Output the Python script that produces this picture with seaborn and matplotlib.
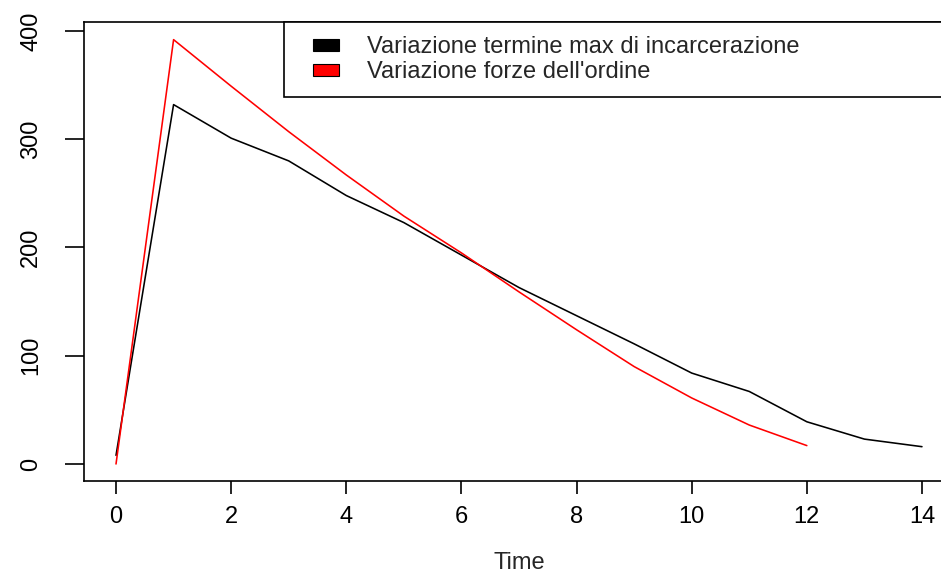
import matplotlib
matplotlib.use("Agg")
import matplotlib.pyplot as plt
import seaborn as sns
import pandas as pd
from matplotlib.patches import Rectangle, Patch
from matplotlib.legend_handler import HandlerPatch

# ---- data ----
time_black = list(range(0, 15))
val_black = [8, 332, 301, 280, 248, 223, 193, 163, 137, 111, 84, 67, 39, 23, 16]
time_red = list(range(0, 13))
val_red = [0, 392, 349, 307, 267, 229, 195, 159, 124, 90, 61, 36, 17]
series_names = ["Variazione termine max di incarcerazione", "Variazione forze dell'ordine"]
series_colors = ["black", "red"]
x_ticks = [0, 2, 4, 6, 8, 10, 12, 14]
y_ticks = [0, 100, 200, 300, 400]
x_label = "Time"

df = pd.concat([
    pd.DataFrame({"Time": time_black, "value": val_black, "serie": series_names[0]}),
    pd.DataFrame({"Time": time_red, "value": val_red, "serie": series_names[1]}),
], ignore_index=True)

sns.set_style("ticks")
plt.rcParams["font.family"] = ["Liberation Sans", "DejaVu Sans"]

fig = plt.figure(figsize=(9.41, 5.73), dpi=100)
ax = fig.add_axes([84 / 941, 1 - 481 / 573, 870 / 941, 459 / 573])

sns.lineplot(data=df, x="Time", y="value", hue="serie",
             palette=dict(zip(series_names, series_colors)),
             linewidth=1.15, legend=False, ax=ax, estimator=None)

ax.set_xlim(-0.556, 14.556)
ax.set_ylim(-15.7, 408.3)
ax.set_xticks(x_ticks)
ax.set_yticks(y_ticks)
ax.set_xticklabels([str(t) for t in x_ticks], fontsize=17)
ax.set_yticklabels([str(t) for t in y_ticks], fontsize=17)
for lab in ax.get_yticklabels():
    lab.set_rotation(90)
    lab.set_va("center")
ax.tick_params(axis="x", length=9, width=1.2, pad=9, colors="black")
ax.tick_params(axis="y", length=14, width=1.2, pad=16, colors="black")

for sp in ax.spines.values():
    sp.set_visible(True)
    sp.set_color("black")
    sp.set_linewidth(1.2)

ax.set_xlabel(x_label, fontsize=17)
ax.set_ylabel("")
ax.xaxis.set_label_coords(0.5, -0.179)
ax.xaxis.label.set_va("center")


def make_patch(legend, orig_handle, xdescent, ydescent, width, height, fontsize):
    w = 26 * 72 / 100.0
    h = 12 * 72 / 100.0
    return Rectangle((-xdescent + width - w, -ydescent + (height - h) / 2), w, h)


handles = [Patch(facecolor=c, edgecolor="black", linewidth=0.8) for c in series_colors]
leg = ax.legend(handles, series_names, loc="upper left",
                bbox_to_anchor=(0.2299, 0.8475, 0.7701, 0.1525), mode="expand",
                borderaxespad=0, fontsize=17, frameon=True, fancybox=False,
                shadow=False, framealpha=1, edgecolor="black",
                handlelength=1.75, handletextpad=1.15, borderpad=0.6,
                labelspacing=0.12,
                handler_map={Patch: HandlerPatch(patch_func=make_patch)})
leg.get_frame().set_linewidth(1.2)

fig.savefig("out.png", dpi=100)
